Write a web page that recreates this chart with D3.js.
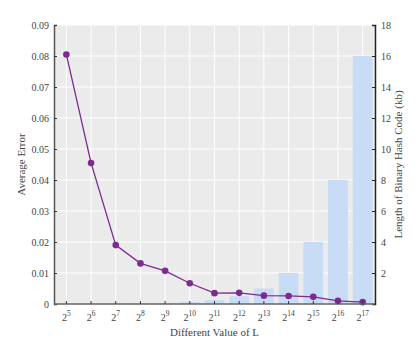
<!DOCTYPE html>
<html>
<head>
<meta charset="utf-8">
<script src="https://cdn.jsdelivr.net/npm/d3@7"></script>
<style>
  body { margin: 0; background: #fff; }
  svg text { font-family: "Liberation Serif", "Times New Roman", "DejaVu Serif", serif !important; fill: #444; }
</style>
</head>
<body>
<div id="chart"></div>
<script>
// exponents of L shown on the x axis
const exponents = [5, 6, 7, 8, 9, 10, 11, 12, 13, 14, 15, 16, 17];
// average error (left axis)
const avgError = [0.0805, 0.0455, 0.019, 0.0131, 0.0107, 0.0067, 0.0035, 0.0036, 0.0027, 0.0026, 0.0023, 0.001, 0.0006];
// length of binary hash code in kb (right axis)
const codeLength = [0.0039, 0.0078, 0.0156, 0.03125, 0.0625, 0.125, 0.25, 0.5, 1, 2, 4, 8, 16];
const leftTicks = [0, 0.01, 0.02, 0.03, 0.04, 0.05, 0.06, 0.07, 0.08, 0.09];
const rightTicks = [2, 4, 6, 8, 10, 12, 14, 16, 18];

const width = 415, height = 342;
const plot = { left: 54, right: 375, top: 25, bottom: 304 };
const serif = '"Liberation Serif", "Times New Roman", serif';

const svg = d3.select('#chart').append('svg')
    .attr('width', width)
    .attr('height', height)
    .attr('font-family', serif);

const x = d3.scaleBand()
    .domain(exponents)
    .range([plot.left, plot.right])
    .paddingInner(0.2)
    .paddingOuter(0.1);
const xc = d => x(d) + x.bandwidth() / 2;

const yL = d3.scaleLinear().domain([0, 0.09]).range([plot.bottom, plot.top]);
const yR = d3.scaleLinear().domain([0, 18]).range([plot.bottom, plot.top]);

// background
svg.append('rect')
    .attr('x', plot.left).attr('y', plot.top)
    .attr('width', plot.right - plot.left)
    .attr('height', plot.bottom - plot.top)
    .attr('fill', '#ebebeb');

// grid
svg.append('g').selectAll('line.h')
    .data(leftTicks.slice(1))
    .enter().append('line')
    .attr('x1', plot.left).attr('x2', plot.right)
    .attr('y1', d => yL(d)).attr('y2', d => yL(d))
    .attr('stroke', '#fff').attr('stroke-width', 1);
svg.append('g').selectAll('line.v')
    .data(exponents)
    .enter().append('line')
    .attr('x1', d => xc(d)).attr('x2', d => xc(d))
    .attr('y1', plot.top).attr('y2', plot.bottom)
    .attr('stroke', '#fff').attr('stroke-width', 1);

// bars
svg.append('g').selectAll('rect')
    .data(exponents)
    .enter().append('rect')
    .attr('x', d => x(d))
    .attr('width', x.bandwidth())
    .attr('y', (d, i) => yR(codeLength[i]))
    .attr('height', (d, i) => plot.bottom - yR(codeLength[i]))
    .attr('fill', '#c8dcf5');

// line
const line = d3.line()
    .x((d, i) => xc(exponents[i]))
    .y(d => yL(d));
svg.append('path')
    .datum(avgError)
    .attr('d', line)
    .attr('fill', 'none')
    .attr('stroke', '#7d2a91')
    .attr('stroke-width', 1.3);
svg.append('g').selectAll('circle')
    .data(avgError)
    .enter().append('circle')
    .attr('cx', (d, i) => xc(exponents[i]))
    .attr('cy', d => yL(d))
    .attr('r', 3.3)
    .attr('fill', '#7d2a91');

// left axis
const leftAxis = svg.append('g')
    .attr('transform', `translate(${plot.left},0)`)
    .call(d3.axisLeft(yL).tickValues(leftTicks).tickSize(-3).tickPadding(5)
        .tickFormat(d => d === 0 ? '0' : d3.format('.2f')(d)));
leftAxis.attr('font-family', serif);
leftAxis.select('.domain').attr('stroke', '#555').attr('stroke-width', 1.5);
leftAxis.selectAll('.tick line').attr('stroke', '#333');
leftAxis.selectAll('text').style('font-size', '10px').attr('fill', '#444');

// right axis
const rightAxis = svg.append('g')
    .attr('transform', `translate(${plot.right},0)`)
    .call(d3.axisRight(yR).tickValues(rightTicks).tickSize(-3).tickPadding(6));
rightAxis.attr('font-family', serif);
rightAxis.select('.domain').attr('stroke', '#222').attr('stroke-width', 1.5);
rightAxis.selectAll('.tick line').attr('stroke', '#222');
rightAxis.selectAll('text').style('font-size', '10px').attr('fill', '#444');

// bottom axis
const bottomAxis = svg.append('g')
    .attr('transform', `translate(0,${plot.bottom})`)
    .call(d3.axisBottom(x).tickSize(-3).tickPadding(8).tickFormat(''));
bottomAxis.attr('font-family', serif);
bottomAxis.select('.domain').attr('stroke', '#666').attr('stroke-width', 1.5)
    .attr('d', `M${plot.left},0H${plot.right}`);
bottomAxis.selectAll('.tick line').attr('stroke', '#333');
bottomAxis.selectAll('.tick').append('text')
    .attr('y', 17)
    .attr('text-anchor', 'middle')
    .style('font-size', '10px')
    .attr('fill', '#444')
    .each(function(d) {
        const t = d3.select(this);
        t.append('tspan').text('2');
        t.append('tspan').attr('dy', -5).style('font-size', '7.5px').text(d);
    });

// axis titles
svg.append('text')
    .attr('transform', `translate(25,${(plot.top + plot.bottom) / 2}) rotate(-90)`)
    .attr('text-anchor', 'middle')
    .style('font-size', '11px')
    .text('Average Error');
svg.append('text')
    .attr('transform', `translate(402,${(plot.top + plot.bottom) / 2}) rotate(-90)`)
    .attr('text-anchor', 'middle')
    .style('font-size', '11px')
    .text('Length of Binary Hash Code (kb)');
svg.append('text')
    .attr('x', (plot.left + plot.right) / 2)
    .attr('y', 336)
    .attr('text-anchor', 'middle')
    .style('font-size', '11px')
    .text('Different Value of L');
</script>
</body>
</html>
